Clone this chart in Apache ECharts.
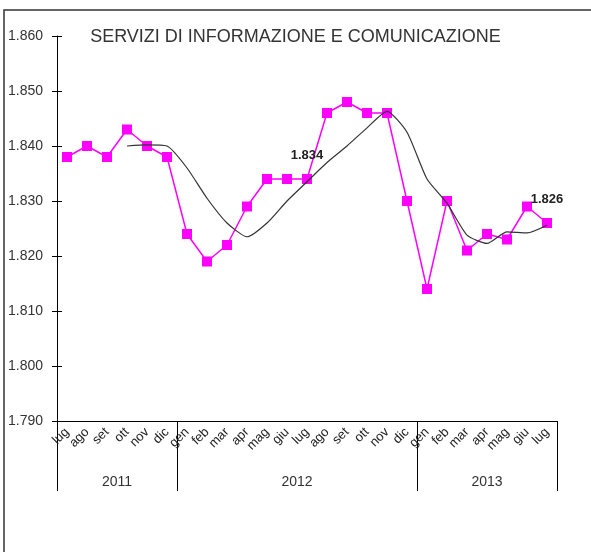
<!DOCTYPE html>
<html>
<head>
<meta charset="utf-8">
<script src="https://cdn.jsdelivr.net/npm/echarts@6/dist/echarts.min.js"></script>
<style>
  html, body { margin: 0; padding: 0; background: #fff; }
  #main { width: 591px; height: 552px; }
</style>
</head>
<body>
<div id="main"></div>
<script>
// mesi (lug 2011 - lug 2013)
var mesi = ['lug','ago','set','ott','nov','dic',
  'gen','feb','mar','apr','mag','giu','lug','ago','set','ott','nov','dic',
  'gen','feb','mar','apr','mag','giu','lug'];
var anni = ['2011', '2012', '2013'];
// dati mensili
var valori = [1838, 1840, 1838, 1843, 1840, 1838,
  1824, 1819, 1822, 1829, 1834, 1834, 1834, 1846, 1848, 1846, 1846, 1830,
  1814, 1830, 1821, 1824, 1823, 1829, 1826];
// media mobile
var media = [null, null, null, 1840, 1840.2, 1840,
  1836, 1830.5, 1826, 1823.5, 1826, 1830, 1833.5, 1837, 1840, 1843.3, 1846.3, 1842.5,
  1834, 1829.6, 1823.8, 1822.3, 1824.4, 1824.2, 1825.6];
var yTicks = [1790, 1800, 1810, 1820, 1830, 1840, 1850, 1860];
// indici con etichetta
var etichette = [12, 24];

var fmt = function (v) { return (v / 1000).toFixed(3); };
var font = 'Liberation Sans, Arial, sans-serif';

var chart = echarts.init(document.getElementById('main'), null, { renderer: 'canvas' });

var option = {
  animation: false,
  backgroundColor: '#fff',
  title: {
    text: 'SERVIZI DI INFORMAZIONE E COMUNICAZIONE',
    left: 'center',
    top: 23,
    textStyle: { fontFamily: font, fontSize: 18, fontWeight: 'normal', color: '#333' }
  },
  graphic: [{
    type: 'rect',
    shape: { x: 4, y: 10, width: 700, height: 700 },
    style: { fill: 'none', stroke: '#333', lineWidth: 1.5 },
    silent: true
  }],
  grid: { left: 57, top: 36, width: 500, height: 385 },
  xAxis: [{
    type: 'category',
    data: mesi,
    boundaryGap: true,
    axisLine: { lineStyle: { color: '#000', width: 1 } },
    axisTick: { show: false },
    axisLabel: {
      interval: 0, rotate: 45, margin: 9,
      fontFamily: font, fontSize: 13, color: '#222'
    }
  }, {
    type: 'value',
    min: 0, max: mesi.length,
    position: 'bottom',
    axisLine: { show: false },
    splitLine: { show: false },
    axisTick: {
      show: true, length: 70, inside: false,
      customValues: [0, 6, 18, 25],
      lineStyle: { color: '#000', width: 1 }
    },
    axisLabel: {
      customValues: [3, 12, 21.5],
      margin: 54,
      fontFamily: font, fontSize: 14, color: '#333',
      formatter: function (v) { return v < 6 ? anni[0] : (v < 18 ? anni[1] : anni[2]); }
    }
  }],
  yAxis: [{
    type: 'value',
    min: yTicks[0], max: yTicks[yTicks.length - 1], interval: 10,
    axisLine: { show: true, lineStyle: { color: '#000', width: 1 } },
    axisTick: { show: true, length: 5, lineStyle: { color: '#000' } },
    splitLine: { show: false },
    axisLabel: {
      margin: 14, fontFamily: font, fontSize: 14, color: '#333',
      formatter: fmt
    }
  }, {
    // tacche interne (incrociate)
    type: 'value',
    position: 'left',
    min: yTicks[0], max: yTicks[yTicks.length - 1], interval: 10,
    axisLine: { show: false },
    axisTick: { show: true, inside: true, length: 5, lineStyle: { color: '#000' } },
    splitLine: { show: false },
    axisLabel: { show: false }
  }],
  series: [{
    type: 'line',
    data: valori.map(function (v, i) {
      if (etichette.indexOf(i) >= 0) {
        return {
          value: v,
          label: {
            show: true, position: 'top', distance: 12,
            fontFamily: font, fontSize: 13, fontWeight: 'bold', color: '#222',
            formatter: function (p) { return fmt(p.value); }
          }
        };
      }
      return v;
    }),
    symbol: 'rect',
    symbolSize: 10,
    itemStyle: { color: '#ff00ff' },
    lineStyle: { color: '#ff00ff', width: 1.5 },
    z: 2
  }, {
    type: 'line',
    data: media,
    symbol: 'none',
    smooth: 0.2,
    lineStyle: { color: '#333', width: 1.2 },
    z: 3
  }]
};

chart.setOption(option);
</script>
</body>
</html>
